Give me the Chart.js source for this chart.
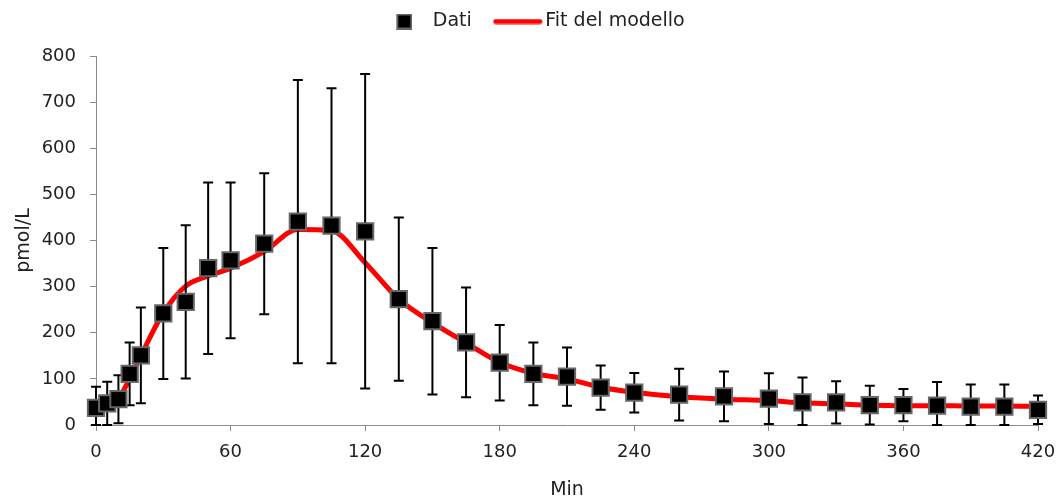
<!DOCTYPE html>
<html>
<head>
<meta charset="utf-8">
<script src="https://cdn.jsdelivr.net/npm/chart.js@4"></script>
<style>
  html, body { margin: 0; padding: 0; background: #fff; }
  #wrap { width: 1061px; height: 502px; }
</style>
</head>
<body>
<div id="wrap"><canvas id="chart" width="1061" height="502"></canvas></div>
<script>
// minutes of each sample
const minutes = [0, 5, 10, 15, 20, 30, 40, 50, 60, 75, 90, 105, 120, 135, 150, 165, 180,
  195, 210, 225, 240, 260, 280, 300, 315, 330, 345, 360, 375, 390, 405, 420];
// measured means (pmol/L)
const dati = [37, 47, 56, 111, 151, 242, 267, 340, 357, 393, 441, 432, 420, 273, 225, 179, 135,
  111, 105, 81, 70, 66, 62, 57, 49, 49, 43, 43, 42, 40, 40, 33];
// standard deviation (error bars)
const sd = [46, 47, 52, 68, 104, 142, 166, 186, 169, 153, 307, 298, 341, 177, 159, 119, 82,
  68, 63, 48, 43, 56, 54, 55, 54, 46, 42, 35, 51, 48, 48, 31];
// model fit
const fit = [38, 45, 58, 100, 150, 243, 301, 323, 340, 376, 424, 421, 352, 273, 222, 178, 136,
  112, 100, 82, 71, 61, 56, 53, 48, 46, 43, 42, 42, 41, 41, 40];
const xTicks = [0, 60, 120, 180, 240, 300, 360, 420];

const FONT = "'DejaVu Sans', sans-serif";
const TEXT = '#222';

// legend icons (offset inside their canvas to match the spacing of the original)
const squareIcon = document.createElement('canvas');
squareIcon.width = 28; squareIcon.height = 16;
(function () {
  const c = squareIcon.getContext('2d');
  c.fillStyle = '#666'; c.fillRect(12, 0, 16, 16);
  c.fillStyle = '#000'; c.fillRect(14, 2, 12, 12);
})();
const lineIcon = document.createElement('canvas');
lineIcon.width = 64; lineIcon.height = 6;
(function () {
  const c = lineIcon.getContext('2d');
  c.strokeStyle = '#ff0000'; c.lineWidth = 5; c.lineCap = 'round';
  c.beginPath(); c.moveTo(17, 3); c.lineTo(61, 3); c.stroke();
})();

// error bars, drawn under the markers but over the fit line
const errorBars = {
  id: 'errorBars',
  beforeDatasetDraw(chart, args) {
    if (args.index !== 0) return;
    const { ctx, scales: { x, y } } = chart;
    ctx.save();
    ctx.strokeStyle = '#000';
    ctx.lineWidth = 2;
    minutes.forEach((t, i) => {
      const px = x.getPixelForValue(t);
      const top = y.getPixelForValue(dati[i] + sd[i]);
      const bot = y.getPixelForValue(Math.max(0, dati[i] - sd[i]));
      ctx.beginPath();
      ctx.moveTo(px, top); ctx.lineTo(px, bot);
      ctx.moveTo(px - 5, top); ctx.lineTo(px + 5, top);
      ctx.moveTo(px - 5, bot); ctx.lineTo(px + 5, bot);
      ctx.stroke();
    });
    ctx.restore();
  }
};

// legend box: fixed height so the plot starts where the original does, nudged sideways
const legendBox = {
  id: 'legendBox',
  beforeLayout(chart) {
    const lg = chart.legend;
    if (!lg || lg._patched) return;
    const fit = lg.fit, draw = lg.draw;
    lg.fit = function () { fit.call(this); this.height = 56; };
    lg.draw = function () {
      this.ctx.save();
      this.ctx.translate(10, -2);
      draw.call(this);
      this.ctx.restore();
    };
    lg._patched = true;
  }
};

new Chart(document.getElementById('chart'), {
  type: 'scatter',
  data: {
    datasets: [{
      label: 'Dati',
      data: minutes.map((t, i) => ({ x: t, y: dati[i] })),
      pointStyle: 'rect',
      pointRadius: 11.5,
      backgroundColor: '#000',
      borderColor: '#666',
      borderWidth: 2,
      showLine: false,
      clip: false,
      order: 0
    }, {
      label: 'Fit del modello',
      data: minutes.map((t, i) => ({ x: t, y: fit[i] })),
      showLine: true,
      pointRadius: 0,
      borderColor: '#ff0000',
      backgroundColor: '#ff0000',
      borderWidth: 5,
      cubicInterpolationMode: 'monotone',
      clip: false,
      order: 1
    }]
  },
  options: {
    responsive: false,
    animation: false,
    events: [],
    layout: { padding: { top: 0, right: 23, left: 0, bottom: 0 } },
    plugins: {
      tooltip: { enabled: false },
      legend: {
        position: 'top',
        labels: {
          usePointStyle: true,
          pointStyleWidth: 50,
          padding: 14,
          color: TEXT,
          font: { family: FONT, size: 19 },
          generateLabels: chart => {
            const items = Chart.defaults.plugins.legend.labels.generateLabels(chart);
            items.forEach(it => {
              it.pointStyle = it.text === 'Dati' ? squareIcon : lineIcon;
            });
            return items;
          }
        }
      }
    },
    scales: {
      x: {
        type: 'linear',
        min: 0, max: 420,
        afterBuildTicks: s => { s.ticks = xTicks.map(v => ({ value: v })); },
        afterFit: s => { s.height = 77; s.paddingLeft = 0; s.paddingRight = 0; },
        border: { display: true, color: '#8c8c8c', width: 1 },
        grid: { drawOnChartArea: false, drawTicks: true, tickLength: 6, color: '#8c8c8c' },
        ticks: { color: TEXT, font: { family: FONT, size: 18 }, padding: 11, maxRotation: 0 },
        title: { display: true, text: 'Min', color: TEXT, font: { family: FONT, size: 19 }, padding: { top: 4, bottom: 1 } }
      },
      y: {
        min: 0, max: 800,
        afterFit: s => { s.width = 96; },
        border: { display: true, color: '#8c8c8c', width: 1 },
        grid: { drawOnChartArea: false, drawTicks: true, tickLength: 6, color: '#8c8c8c' },
        ticks: { stepSize: 100, color: TEXT, font: { family: FONT, size: 18 }, padding: 14 },
        title: { display: true, text: 'pmol/L', color: TEXT, font: { family: FONT, size: 19 }, padding: { top: 13, bottom: 4 } }
      }
    }
  },
  plugins: [errorBars, legendBox]
});
</script>
</body>
</html>
